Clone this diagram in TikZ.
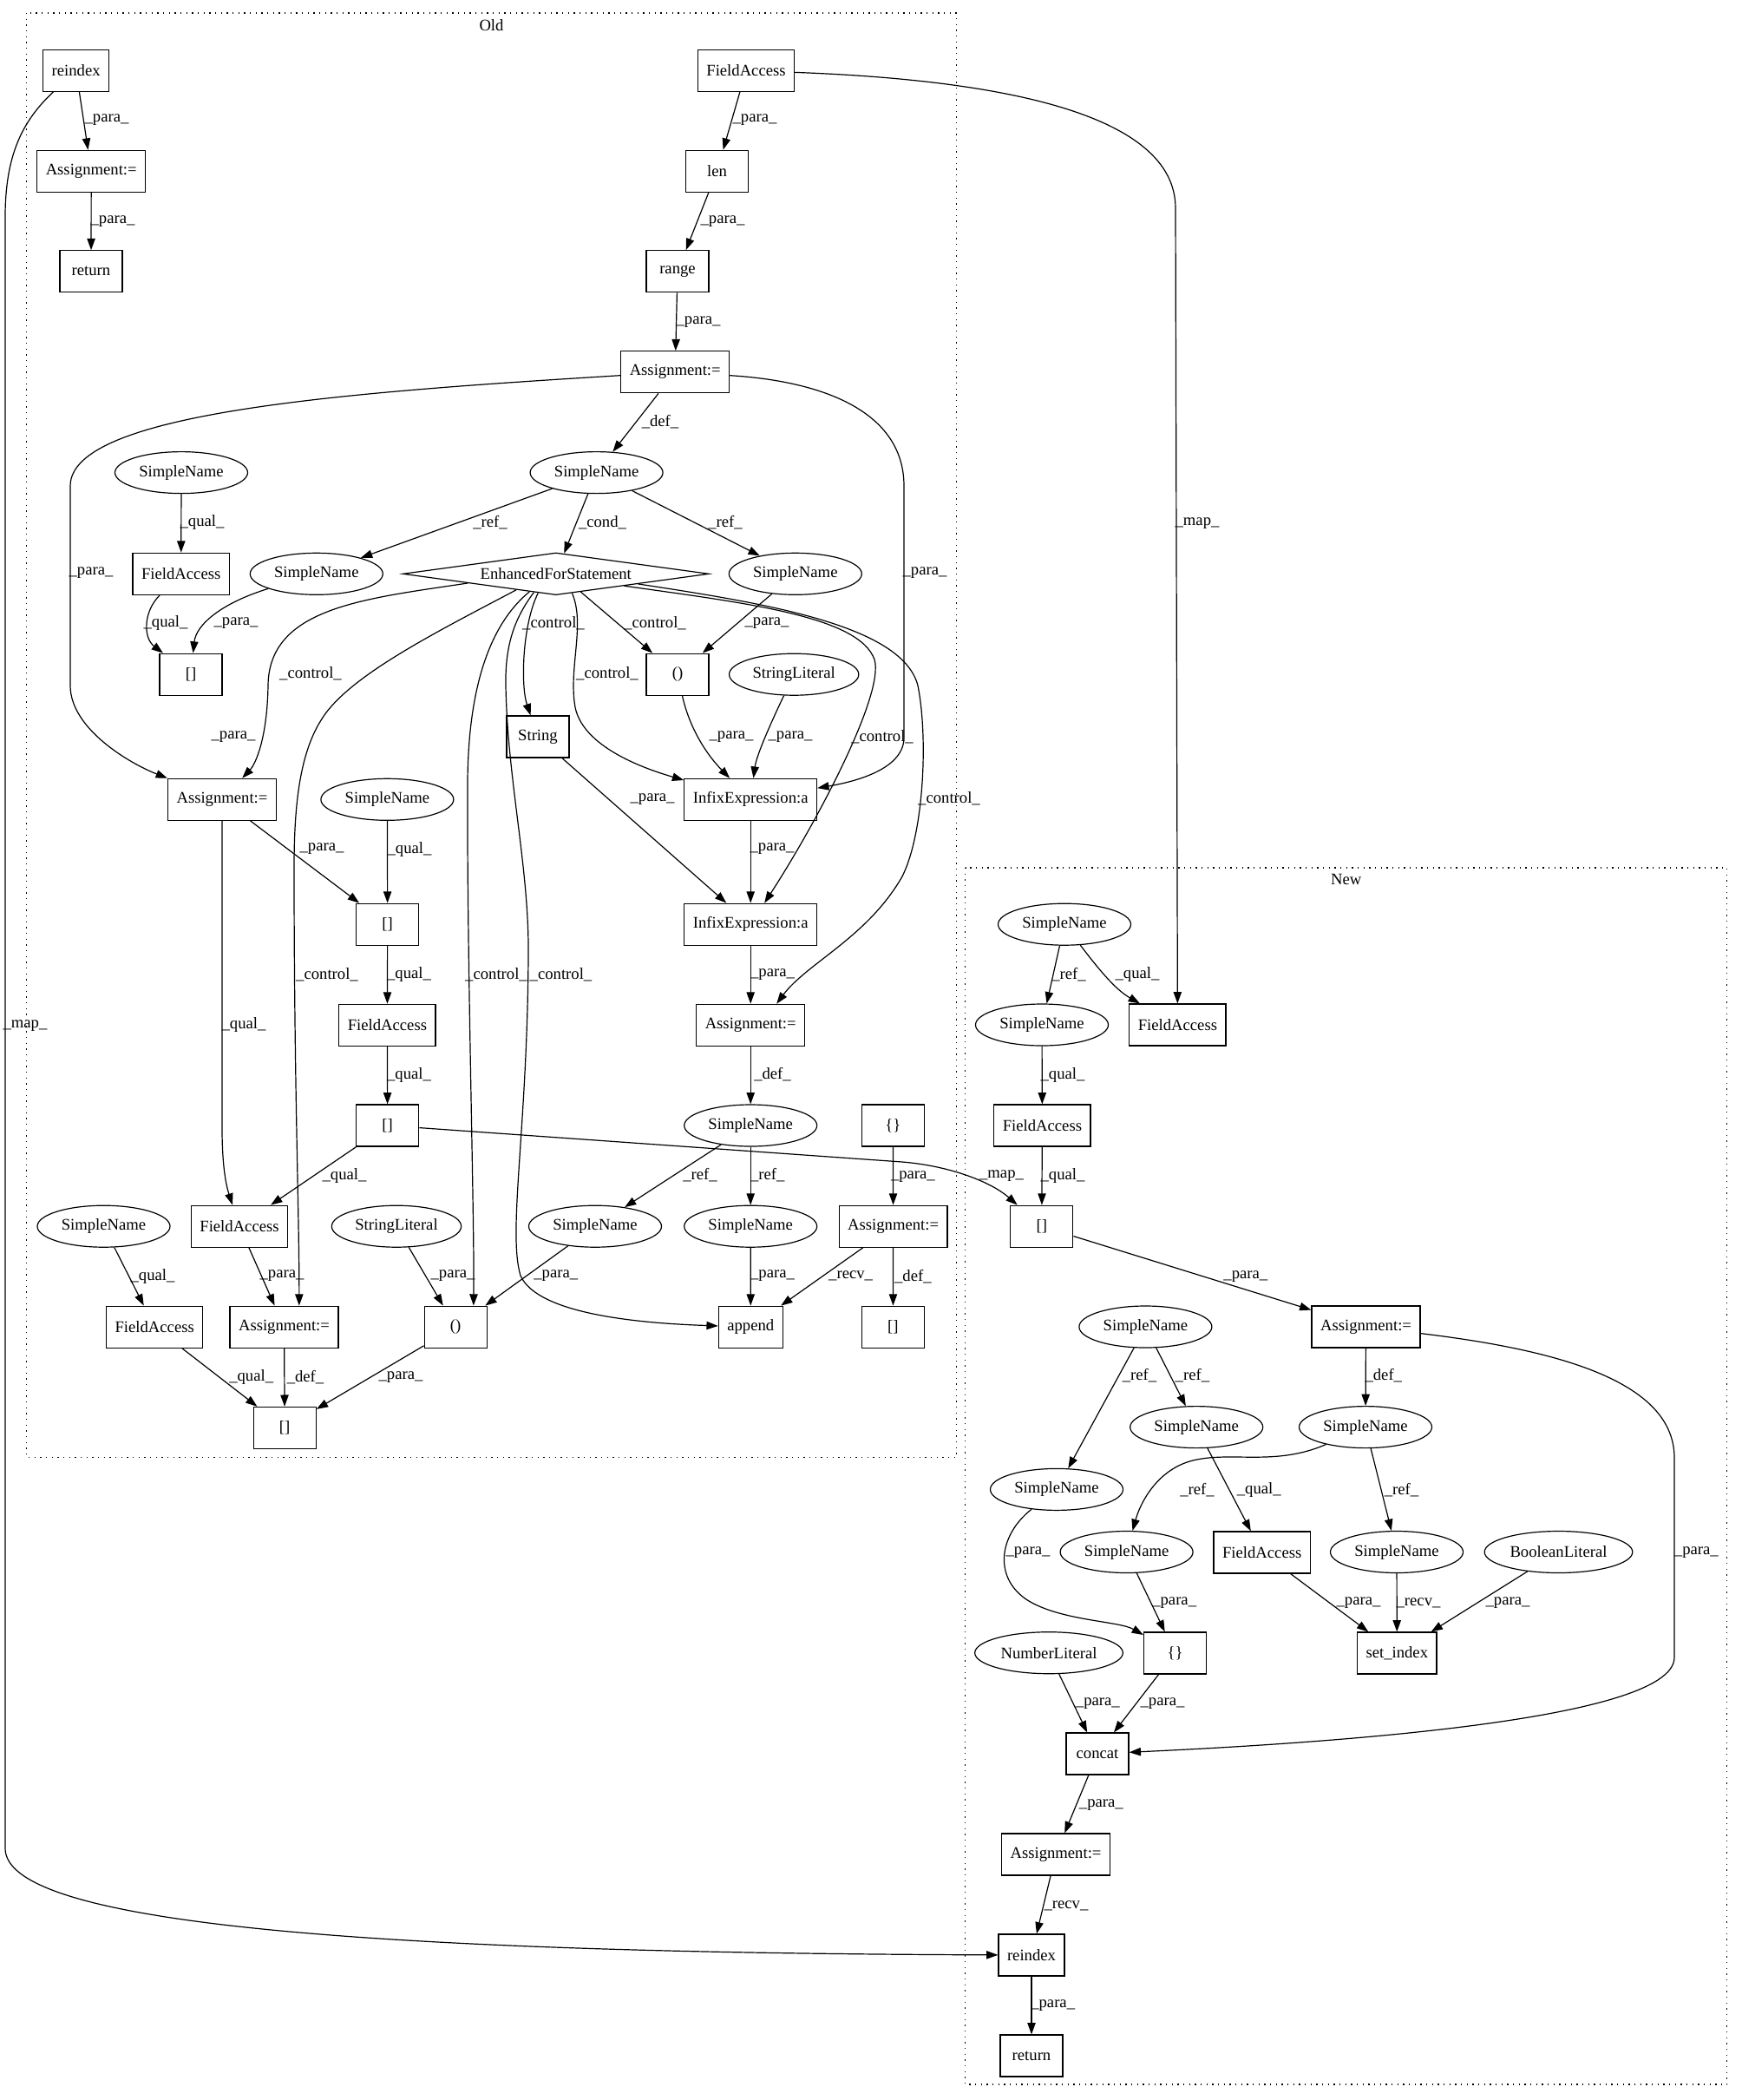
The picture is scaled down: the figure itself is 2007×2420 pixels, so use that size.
\documentclass[tikz,border=0pt]{standalone}
\usepackage{fontspec}
\setmainfont{Liberation Serif}
\usetikzlibrary{shapes.geometric,arrows.meta}
\begin{document}
\begin{tikzpicture}[x=0.75pt,y=-0.75pt,
  every node/.style={font=\fontsize{14}{16}\selectfont},
  box/.style={draw,rectangle,minimum height=36pt,minimum width=54pt,inner xsep=7.5pt,inner ysep=0pt,line width=0.9pt},
  oval/.style={draw,ellipse,minimum height=36pt,minimum width=114.75pt,inner sep=0pt,line width=0.9pt},
  lit/.style={draw,ellipse,minimum height=36pt,minimum width=112pt,inner sep=0pt,line width=0.9pt},
  wide/.style={draw,ellipse,minimum height=36pt,minimum width=128pt,inner sep=0pt,line width=0.9pt},
  dia/.style={draw,diamond,shape aspect=7.3,inner sep=0pt,minimum width=264.75pt,minimum height=36.45pt,line width=0.9pt},
  e/.style={line width=0.9pt,-{Triangle[length=10pt,width=7pt]}},
  lbl/.style={inner sep=0pt},
  clus/.style={line width=0.9pt,dash pattern=on 1pt off 4pt}]
\useasboundingbox (0,0) rectangle (2007,2420);
% clusters
\draw[clus] (30.6,15) rectangle (1102.3,1679.4);
\draw[clus] (1112.5,1000) rectangle (1990.8,2402);
\node (oldlbl) at (566.5,29.5) {Old};
\node (newlbl) at (1551.7,1013) {New};
% Old nodes
\node[box] (reo) at (87.7,81.3) {reindex};
\node[box] (as1) at (105.2,197.3) {Assignment:=};
\node[box] (reto) at (105,312.8) {return};
\node[box] (fat) at (860,81.3) {FieldAccess};
\node[box] (len) at (826.5,197.3) {len};
\node[box] (rng) at (781,312.8) {range};
\node[box] (as2) at (778.2,428.8) {Assignment:=};
\node[oval] (sdef) at (687.6,544.6) {SimpleName};
\node[oval] (sa) at (209,544.6) {SimpleName};
\node[box] (faa) at (208.7,661.3) {FieldAccess};
\node[oval] (sb) at (364.8,661.3) {SimpleName};
\node[dia] (efs) at (640.8,661.3) {EnhancedForStatement};
\node[oval] (sc) at (916.8,661.3) {SimpleName};
\node[box] (br1) at (220,777.2) {[]};
\node[box] (pa1) at (781,777.2) {()};
\node[lit] (sl1) at (915.2,777.2) {StringLiteral};
\node[box] (str) at (620,849) {String};
\node[box] (as3) at (256,921.3) {Assignment:=};
\node[oval] (sd) at (446.4,921.3) {SimpleName};
\node[box] (inf1) at (865.2,921.3) {InfixExpression:a};
\node[box] (br2) at (446.7,1065.2) {[]};
\node[box] (inf2) at (865.2,1065.2) {InfixExpression:a};
\node[box] (fab) at (446.4,1181.3) {FieldAccess};
\node[box] (as4) at (865.2,1181.3) {Assignment:=};
\node[box] (br3) at (446.7,1297) {[]};
\node[oval] (se) at (865.2,1297) {SimpleName};
\node[box] (cb1) at (1029.4,1297) {\{\}};
\node[oval] (sf) at (119.5,1413.2) {SimpleName};
\node[box] (fac) at (276,1413.2) {FieldAccess};
\node[lit] (sl2) at (457,1413.2) {StringLiteral};
\node[oval] (sg) at (686,1413.2) {SimpleName};
\node[oval] (sh) at (865.2,1413.2) {SimpleName};
\node[box] (as5) at (1029.6,1413.2) {Assignment:=};
\node[box] (fad) at (178.2,1529.2) {FieldAccess};
\node[box] (as6) at (327.5,1529.2) {Assignment:=};
\node[box] (pa2) at (525.2,1529.2) {()};
\node[box] (app) at (865.3,1529.2) {append};
\node[box] (br4) at (1029.4,1529.2) {[]};
\node[box] (br5) at (328.2,1645.4) {[]};
% New nodes
\node[oval] (n1) at (1227,1065.2) {SimpleName};
\node[oval] (n2) at (1201,1181) {SimpleName};
\node[box] (fan1) at (1357.4,1181) {FieldAccess};
\node[box] (fan2) at (1201.4,1297) {FieldAccess};
\node[box] (brn) at (1200.8,1413.2) {[]};
\node[box] (asn) at (1574.5,1529) {Assignment:=};
\node[oval] (n3) at (1320.4,1529) {SimpleName};
\node[oval] (n5) at (1379.2,1644.6) {SimpleName};
\node[oval] (n4) at (1574,1644.6) {SimpleName};
\node[oval] (n6) at (1218,1716.4) {SimpleName};
\node[oval] (n7) at (1298.6,1788.5) {SimpleName};
\node[box] (fan3) at (1454.7,1789) {FieldAccess};
\node[oval] (n8) at (1610,1788.5) {SimpleName};
\node[wide] (bool) at (1796.5,1788.5) {BooleanLiteral};
\node[box] (cbn) at (1354.5,1905) {\{\}};
\node[box] (seti) at (1610.3,1905) {set\_index};
\node[wide] (num) at (1209,1904.7) {NumberLiteral};
\node[box] (conc) at (1265,2021) {concat};
\node[box] (asn2) at (1217,2137) {Assignment:=};
\node[box] (ren) at (1189,2253) {reindex};
\node[box] (retn) at (1189,2369) {return};
% Old edges
\draw[e] (reo) -- (as1);
\draw[e] (as1) -- (reto);
\draw[e] (fat) -- (len);
\draw[e] (len) -- (rng);
\draw[e] (rng) -- (as2);
\draw[e] (as2) -- (sdef);
\draw[e] (as2) .. controls (400,452) and (81,475) .. (81,560) -- (81,790) .. controls (81,840) and (150,880) .. (as3);
\draw[e] (as2) .. controls (960,440) and (1042,480) .. (1042,560) -- (1042,850) .. controls (1042,885) and (990,900) .. (inf1);
\draw[e] (fat) .. controls (1150,92) and (1355,130) .. (1355,240) -- (fan1);
\draw[e] (reo) .. controls (25,140) and (6,180) .. (6,250) -- (6,2130) .. controls (6,2215) and (400,2250) .. (ren);
\draw[e] (sa) -- (faa);
\draw[e] (sdef) -- (sb);
\draw[e] (sdef) -- (efs);
\draw[e] (sdef) -- (sc);
\draw[e] (faa) .. controls (165,705) and (165,735) .. (br1);
\draw[e] (sb) .. controls (255,695) and (226,720) .. (br1);
\draw[e] (efs.186) .. controls (420,690) and (310,700) .. (309,790) .. controls (308,850) and (295,880) .. (as3);
\draw[e] (efs.202) .. controls (500,730) and (400,780) .. (370,830) .. controls (345,870) and (339,930) .. (339,1000) .. controls (339,1250) and (345,1400) .. ([xshift=13pt]as6.north);
\draw[e] (efs.214) .. controls (570,715) and (540,780) .. (539,900) .. controls (538,1100) and (547,1400) .. ([xshift=15.5pt]pa2.north);
\draw[e] (efs.220) .. controls (595,710) and (582,740) .. (583,790) .. controls (585,900) and (610,1000) .. (609,1100) .. controls (608,1300) and (585,1420) .. (600,1470) .. controls (620,1515) and (740,1525) .. (app);
\draw[e] (efs.227) .. controls (602,720) and (600,790) .. (str);
\draw[e] (efs.-36) -- (pa1);
\draw[e] (efs.-50) .. controls (675,720) and (655,770) .. (663,815) .. controls (672,860) and (740,885) .. (inf1);
\draw[e] (efs.-10.6) .. controls (860,695) and (990,710) .. (1008,760) .. controls (1020,800) and (940,950) .. (inf2);
\draw[e] (efs.-7.8) .. controls (880,695) and (1040,720) .. (1058,790) .. controls (1070,850) and (1065,960) .. (1040,1010) .. controls (1000,1080) and (930,1110) .. ([xshift=22.5pt]as4.north);
\draw[e] (sc) -- (pa1);
\draw[e] (pa1) .. controls (795,840) and (815,870) .. (inf1);
\draw[e] (sl1) .. controls (890,830) and (872,870) .. (inf1);
\draw[e] (str) -- (inf2);
\draw[e] (inf1) -- (inf2);
\draw[e] (as3) -- (br2);
\draw[e] (sd) -- (br2);
\draw[e] (as3) -- (256,1300) .. controls (256,1350) and (262,1370) .. (fac);
\draw[e] (br2) -- (fab);
\draw[e] (fab) -- (br3);
\draw[e] (br3) -- (fac);
\draw[e] (br3) -- (1040,1339) .. controls (1090,1343) and (1140,1360) .. (brn);
\draw[e] (inf2) -- (as4);
\draw[e] (as4) -- (se);
\draw[e] (cb1) -- (as5);
\draw[e] (se) -- (sg);
\draw[e] (se) -- (sh);
\draw[e] (as5) -- (app);
\draw[e] (as5) -- (br4);
\draw[e] (sh) -- (app);
\draw[e] (sf) -- (fad);
\draw[e] (fac) -- (as6);
\draw[e] (sl2) -- (pa2);
\draw[e] (sg) -- (pa2);
\draw[e] (fad) -- (br5);
\draw[e] (as6) -- (br5);
\draw[e] (pa2) -- (br5);
% New edges
\draw[e] (n1) -- (n2);
\draw[e] (n1) .. controls (1265,1115) and (1285,1140) .. (fan1);
\draw[e] (n2) -- (fan2);
\draw[e] (fan2) -- (brn);
\draw[e] (brn) -- (asn);
\draw[e] (asn) -- (n4);
\draw[e] (asn) .. controls (1790,1555) and (1930,1590) .. (1930,1680) -- (1930,1910) .. controls (1930,1985) and (1500,2010) .. (conc);
\draw[e] (n3) -- (n6);
\draw[e] (n3) -- (n5);
\draw[e] (n4) .. controls (1470,1690) and (1420,1672) .. (1375,1683) .. controls (1335,1693) and (1315,1730) .. (n7);
\draw[e] (n5) -- (fan3);
\draw[e] (n4) -- (n8);
\draw[e] (n6) .. controls (1150,1770) and (1145,1820) .. (1186,1845) .. controls (1225,1868) and (1290,1868) .. (cbn);
\draw[e] (n7) -- (cbn);
\draw[e] (fan3) -- (seti);
\draw[e] (n8) -- (seti);
\draw[e] (bool) -- (seti);
\draw[e] (num) -- (conc);
\draw[e] (cbn) -- (conc);
\draw[e] (conc) -- (asn2);
\draw[e] (asn2) -- (ren);
\draw[e] (ren) -- (retn);
% Old labels
\node[lbl] (l1) at (123,138) {\_para\_};
\node[lbl] (l2) at (130,255) {\_para\_};
\node[lbl] (l3) at (870,138) {\_para\_};
\node[lbl] (l4) at (833,255) {\_para\_};
\node[lbl] (l5) at (805,371) {\_para\_};
\node[lbl] (l6) at (761,486) {\_def\_};
\node[lbl] (l7) at (105,660) {\_para\_};
\node[lbl] (l8) at (1066,660) {\_para\_};
\node[lbl] (l9) at (1380,603.5) {\_map\_};
\node[lbl] (l10) at (29,1182) {\_map\_};
\node[lbl] (l11) at (233,602) {\_qual\_};
\node[lbl] (l12) at (565,602) {\_ref\_};
\node[lbl] (l13) at (694.5,602) {\_cond\_};
\node[lbl] (l14) at (836,602) {\_ref\_};
\node[lbl] (l15) at (191,718) {\_qual\_};
\node[lbl] (l16) at (272,718) {\_para\_};
\node[lbl] (l17) at (358,776.5) {\_control\_};
\node[lbl] (l18) at (638,718) {\_control\_};
\node[lbl] (l19) at (755,718) {\_control\_};
\node[lbl] (l20) at (884,718) {\_para\_};
\node[lbl] (l21) at (700,776.5) {\_control\_};
\node[lbl] (l22) at (269,849) {\_para\_};
\node[lbl] (l23) at (843,849) {\_para\_};
\node[lbl] (l24) at (911,849) {\_para\_};
\node[lbl] (l25) at (1017,849) {\_control\_};
\node[lbl] (l26) at (752,921) {\_para\_};
\node[lbl] (l27) at (1094,920) {\_control\_};
\node[lbl] (l28) at (371,978.5) {\_para\_};
\node[lbl] (l29) at (472,978.5) {\_qual\_};
\node[lbl] (l30) at (890,978.5) {\_para\_};
\node[lbl] (l31) at (377,1123) {\_control\_};
\node[lbl] (l32) at (281,1181) {\_qual\_};
\node[lbl] (l33) at (471.5,1123) {\_qual\_};
\node[lbl] (l34) at (572,1123) {\_control\_};
\node[lbl] (l35) at (646.5,1123) {\_control\_};
\node[lbl] (l36) at (890.5,1123) {\_para\_};
\node[lbl] (l37) at (471.5,1238.5) {\_qual\_};
\node[lbl] (l38) at (890.5,1238.5) {\_def\_};
\node[lbl] (l39) at (397,1354.5) {\_qual\_};
\node[lbl] (l40) at (807,1354.5) {\_ref\_};
\node[lbl] (l41) at (884.7,1354.5) {\_ref\_};
\node[lbl] (l42) at (1052.4,1356) {\_para\_};
\node[lbl] (l43) at (1154.5,1355) {\_map\_};
\node[lbl] (l44) at (176,1470.8) {\_qual\_};
\node[lbl] (l45) at (325,1470.3) {\_para\_};
\node[lbl] (l46) at (522,1470.3) {\_para\_};
\node[lbl] (l47) at (640.8,1470.3) {\_para\_};
\node[lbl] (l48) at (890.5,1470.3) {\_para\_};
\node[lbl] (l49) at (980.6,1470.3) {\_recv\_};
\node[lbl] (l50) at (1052.4,1470.8) {\_def\_};
\node[lbl] (l51) at (289.7,1586.8) {\_qual\_};
\node[lbl] (l52) at (352,1586.8) {\_def\_};
\node[lbl] (l53) at (462,1586.8) {\_para\_};
% New labels
\node[lbl] (m1) at (1232,1123.4) {\_ref\_};
\node[lbl] (m2) at (1311,1123.4) {\_qual\_};
\node[lbl] (m3) at (1225,1238.5) {\_qual\_};
\node[lbl] (m4) at (1225,1354.7) {\_qual\_};
\node[lbl] (m5) at (1435.8,1470.7) {\_para\_};
\node[lbl] (m6) at (1594.8,1585.5) {\_def\_};
\node[lbl] (m7) at (1313.5,1585.5) {\_ref\_};
\node[lbl] (m8) at (1374.4,1585.5) {\_ref\_};
\node[lbl] (m9) at (1955.3,1788.7) {\_para\_};
\node[lbl] (m10) at (1380,1717) {\_ref\_};
\node[lbl] (m11) at (1451.3,1717) {\_qual\_};
\node[lbl] (m12) at (1615.5,1717) {\_ref\_};
\node[lbl] (m13) at (1185,1788.7) {\_para\_};
\node[lbl] (m14) at (1353.7,1847) {\_para\_};
\node[lbl] (m15) at (1566,1847) {\_para\_};
\node[lbl] (m16) at (1635,1847) {\_recv\_};
\node[lbl] (m17) at (1738,1847) {\_para\_};
\node[lbl] (m18) at (1265.3,1962.6) {\_para\_};
\node[lbl] (m19) at (1340,1962.6) {\_para\_};
\node[lbl] (m20) at (1269.3,2079.7) {\_para\_};
\node[lbl] (m21) at (1229,2196) {\_recv\_};
\node[lbl] (m22) at (1213.7,2311) {\_para\_};
\end{tikzpicture}
\end{document}
